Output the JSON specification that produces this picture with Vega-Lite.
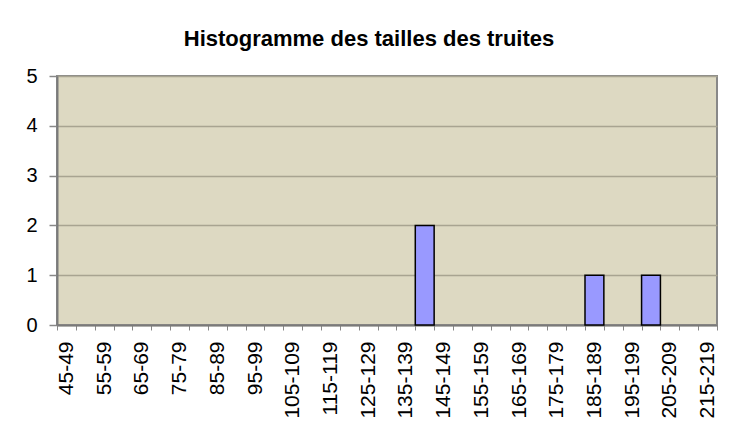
{
  "$schema": "https://vega.github.io/schema/vega-lite/v6.json",
  "autosize": {"type": "none"},
  "padding": {"left": 57, "top": 76, "right": 24, "bottom": 121},
  "width": 660,
  "height": 249,
  "background": "white",
  "title": {
    "text": "Histogramme des tailles des truites",
    "font": "Liberation Sans",
    "fontSize": 22,
    "fontWeight": "bold",
    "color": "black",
    "anchor": "middle",
    "baseline": "alphabetic",
    "offset": -2,
    "dx": -18
  },
  "data": {
    "values": [
      {"classe": "45-49", "count": 0},
      {"classe": "50-54", "count": 0},
      {"classe": "55-59", "count": 0},
      {"classe": "60-64", "count": 0},
      {"classe": "65-69", "count": 0},
      {"classe": "70-74", "count": 0},
      {"classe": "75-79", "count": 0},
      {"classe": "80-84", "count": 0},
      {"classe": "85-89", "count": 0},
      {"classe": "90-94", "count": 0},
      {"classe": "95-99", "count": 0},
      {"classe": "100-104", "count": 0},
      {"classe": "105-109", "count": 0},
      {"classe": "110-114", "count": 0},
      {"classe": "115-119", "count": 0},
      {"classe": "120-124", "count": 0},
      {"classe": "125-129", "count": 0},
      {"classe": "130-134", "count": 0},
      {"classe": "135-139", "count": 0},
      {"classe": "140-144", "count": 2},
      {"classe": "145-149", "count": 0},
      {"classe": "150-154", "count": 0},
      {"classe": "155-159", "count": 0},
      {"classe": "160-164", "count": 0},
      {"classe": "165-169", "count": 0},
      {"classe": "170-174", "count": 0},
      {"classe": "175-179", "count": 0},
      {"classe": "180-184", "count": 0},
      {"classe": "185-189", "count": 1},
      {"classe": "190-194", "count": 0},
      {"classe": "195-199", "count": 0},
      {"classe": "200-204", "count": 1},
      {"classe": "205-209", "count": 0},
      {"classe": "210-214", "count": 0},
      {"classe": "215-219", "count": 0}
    ]
  },
  "mark": {"type": "bar", "fill": "#9999FF", "stroke": "black", "strokeWidth": 1.5},
  "encoding": {
    "x": {
      "field": "classe",
      "type": "ordinal",
      "sort": null,
      "scale": {"paddingInner": 0, "paddingOuter": 0},
      "axis": {
        "title": null,
        "labelAngle": -90,
        "labelAlign": "right",
        "labelBaseline": "middle",
        "labelFont": "Liberation Sans",
        "labelFontSize": 21,
        "labelColor": "black",
        "labelPadding": 11,
        "labelExpr": "(toNumber(split(datum.label, '-')[0]) - 45) % 10 == 0 ? datum.label : ''",
        "labelOverlap": false,
        "tickBand": "extent",
        "tickSize": 5,
        "tickColor": "#888888",
        "tickWidth": 1,
        "domainColor": "#7a7a7a",
        "domainWidth": 2,
        "grid": false
      }
    },
    "y": {
      "field": "count",
      "type": "quantitative",
      "scale": {"domain": [0, 5], "nice": false},
      "axis": {
        "title": null,
        "values": [0, 1, 2, 3, 4, 5],
        "labelFont": "Liberation Sans",
        "labelFontSize": 20,
        "labelColor": "black",
        "labelPadding": 12,
        "tickSize": 8,
        "tickColor": "#888888",
        "tickWidth": 1.5,
        "domainColor": "#7a7a7a",
        "domainWidth": 2,
        "grid": true,
        "gridColor": "#a8a491",
        "gridWidth": 1.5
      }
    },
    "strokeOpacity": {"condition": {"test": "datum.count == 0", "value": 0}, "value": 1}
  },
  "config": {
    "view": {"fill": "#DDD9C2", "stroke": "#888888", "strokeWidth": 2}
  }
}
